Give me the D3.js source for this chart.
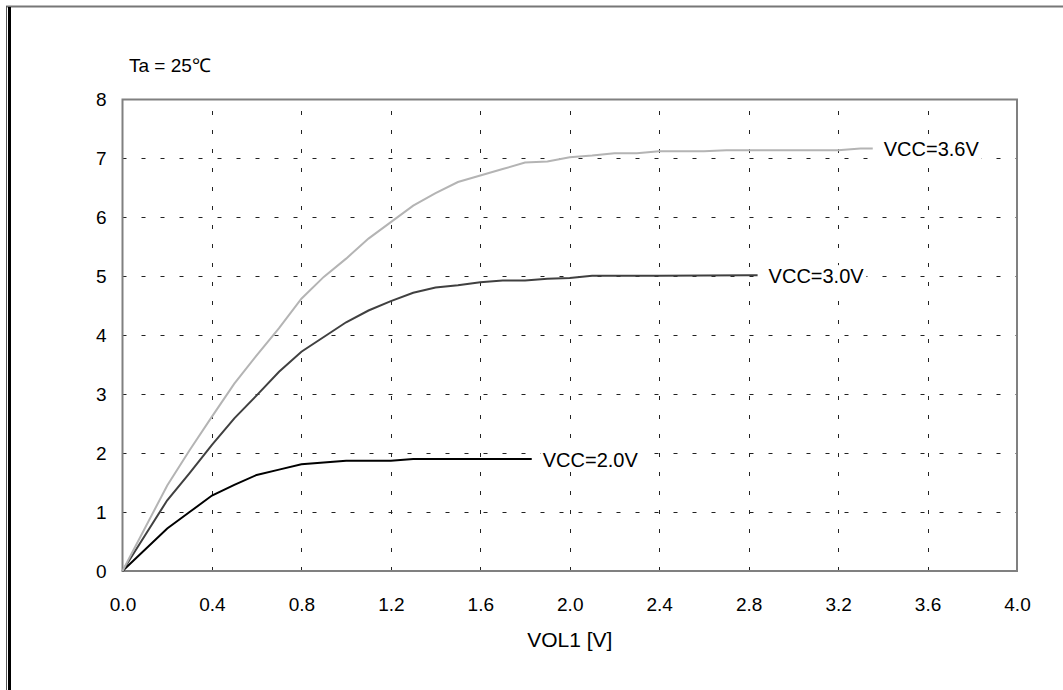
<!DOCTYPE html>
<html>
<head>
<meta charset="utf-8">
<script src="https://cdn.jsdelivr.net/npm/d3@7"></script>
<style>
  body { margin: 0; background: #fff; }
  text { font-family: "Liberation Sans", Arial, sans-serif; fill: #000; }
</style>
</head>
<body>
<svg id="chart" width="1063" height="690"></svg>
<script>
// valores
var xTicks = [0.0, 0.4, 0.8, 1.2, 1.6, 2.0, 2.4, 2.8, 3.2, 3.6, 4.0];
var yTicks = [0, 1, 2, 3, 4, 5, 6, 7, 8];

var vcc20X = [0, 0.2, 0.3, 0.4, 0.5, 0.6, 0.7, 0.8, 0.9, 1.0, 1.2, 1.3, 1.83];
var vcc20Y = [0, 0.72, 1.0, 1.28, 1.46, 1.63, 1.72, 1.81, 1.84, 1.87, 1.87, 1.9, 1.9];

var vcc30X = [0, 0.2, 0.3, 0.4, 0.5, 0.6, 0.7, 0.8, 0.9, 1.0, 1.1, 1.2, 1.3, 1.4, 1.5, 1.6, 1.7, 1.8, 1.9, 2.0, 2.1, 2.4, 2.8, 2.84];
var vcc30Y = [0, 1.2, 1.66, 2.14, 2.59, 2.98, 3.38, 3.72, 3.97, 4.22, 4.42, 4.58, 4.72, 4.81, 4.85, 4.9, 4.93, 4.93, 4.96, 4.97, 5.01, 5.01, 5.02, 5.02];

var vcc36X = [0, 0.2, 0.3, 0.4, 0.5, 0.6, 0.7, 0.8, 0.9, 1.0, 1.1, 1.2, 1.3, 1.4, 1.5, 1.6, 1.7, 1.8, 1.9, 2.0, 2.1, 2.2, 2.3, 2.4, 2.6, 2.7, 3.2, 3.3, 3.355];
var vcc36Y = [0, 1.45, 2.05, 2.62, 3.18, 3.66, 4.12, 4.62, 4.99, 5.3, 5.64, 5.92, 6.2, 6.41, 6.6, 6.71, 6.82, 6.93, 6.95, 7.02, 7.05, 7.09, 7.09, 7.12, 7.12, 7.14, 7.14, 7.17, 7.17];

var seriesNames = ["VCC=2.0V", "VCC=3.0V", "VCC=3.6V"];
var seriesColors = ["#000000", "#404040", "#b4b4b4"];

var svg = d3.select("#chart");

// moldura externa
svg.append("line").attr("x1", 6).attr("x2", 1063).attr("y1", 6.5).attr("y2", 6.5)
  .attr("stroke", "#777").attr("stroke-width", 2);
svg.append("line").attr("x1", 6.5).attr("x2", 6.5).attr("y1", 6).attr("y2", 690)
  .attr("stroke", "#555").attr("stroke-width", 1);
svg.append("rect").attr("x", 8).attr("y", 7).attr("width", 3).attr("height", 683)
  .attr("fill", "#000");

var plotLeft = 122.5, plotRight = 1017, plotTop = 99.5, plotBottom = 571;

var xScale = d3.scaleLinear().domain([0, 4]).range([plotLeft, plotRight]);
var yScale = d3.scaleLinear().domain([0, 8]).range([plotBottom, plotTop]);

// grade tracejada
svg.append("g").selectAll("line")
  .data(xTicks.filter(function(d) { return d > 0 && d < 4; }))
  .enter().append("line")
  .attr("x1", function(d) { return Math.round(xScale(d)) + 0.5; })
  .attr("x2", function(d) { return Math.round(xScale(d)) + 0.5; })
  .attr("y1", plotBottom).attr("y2", plotTop)
  .attr("stroke", "#222").attr("stroke-width", 1)
  .attr("stroke-dasharray", "4,15");

svg.append("g").selectAll("line")
  .data(yTicks.filter(function(d) { return d > 0 && d < 8; }))
  .enter().append("line")
  .attr("x1", plotLeft).attr("x2", plotRight)
  .attr("y1", function(d) { return Math.round(yScale(d)) + 0.5; })
  .attr("y2", function(d) { return Math.round(yScale(d)) + 0.5; })
  .attr("stroke", "#222").attr("stroke-width", 1)
  .attr("stroke-dasharray", "4,15");

// borda da area do grafico
svg.append("rect").attr("x", plotLeft).attr("y", plotTop)
  .attr("width", plotRight - plotLeft).attr("height", plotBottom - plotTop)
  .attr("fill", "none").attr("stroke", "#808080").attr("stroke-width", 2);

// rotulos dos eixos
var xAxis = d3.axisBottom(xScale).tickValues(xTicks).tickSize(0).tickPadding(27)
  .tickFormat(d3.format(".1f"));
var gx = svg.append("g").attr("transform", "translate(0," + plotBottom + ")").call(xAxis);
gx.select(".domain").remove();
gx.selectAll("text").style("font-size", "19px").attr("fill", "#000");

var yAxis = d3.axisLeft(yScale).tickValues(yTicks).tickSize(0).tickPadding(16)
  .tickFormat(d3.format("d"));
var gy = svg.append("g").attr("transform", "translate(" + plotLeft + ",0)").call(yAxis);
gy.select(".domain").remove();
gy.selectAll("text").style("font-size", "19px").attr("fill", "#000");

// curvas
var linha = d3.line()
  .x(function(d) { return xScale(d[0]); })
  .y(function(d) { return yScale(d[1]); });

var series = [
  d3.zip(vcc20X, vcc20Y),
  d3.zip(vcc30X, vcc30Y),
  d3.zip(vcc36X, vcc36Y)
];

svg.append("g").selectAll("path")
  .data(series)
  .enter().append("path")
  .attr("d", linha)
  .attr("fill", "none")
  .attr("stroke", function(d, i) { return seriesColors[i]; })
  .attr("stroke-width", 2);

// nomes das curvas no final de cada linha, com fundo branco
var rotulos = svg.append("g").selectAll("g")
  .data(series)
  .enter().append("g");

rotulos.append("text")
  .attr("x", function(d) { return xScale(d[d.length - 1][0]) + 11; })
  .attr("y", function(d) { return yScale(d[d.length - 1][1]) + 1; })
  .attr("dy", "0.35em")
  .style("font-size", "20px")
  .text(function(d, i) { return seriesNames[i]; });

rotulos.each(function() {
  var g = d3.select(this);
  var b = g.select("text").node().getBBox();
  g.insert("rect", "text")
    .attr("x", b.x - 2).attr("y", b.y)
    .attr("width", b.width + 4).attr("height", b.height)
    .attr("fill", "#fff");
});

svg.append("text").attr("x", 129).attr("y", 65).attr("dy", "0.35em")
  .style("font-size", "19px").text("Ta = 25℃");

svg.append("text").attr("x", (plotLeft + plotRight) / 2).attr("y", 640).attr("dy", "0.35em")
  .attr("text-anchor", "middle").style("font-size", "21px").text("VOL1 [V]");
</script>
</body>
</html>
